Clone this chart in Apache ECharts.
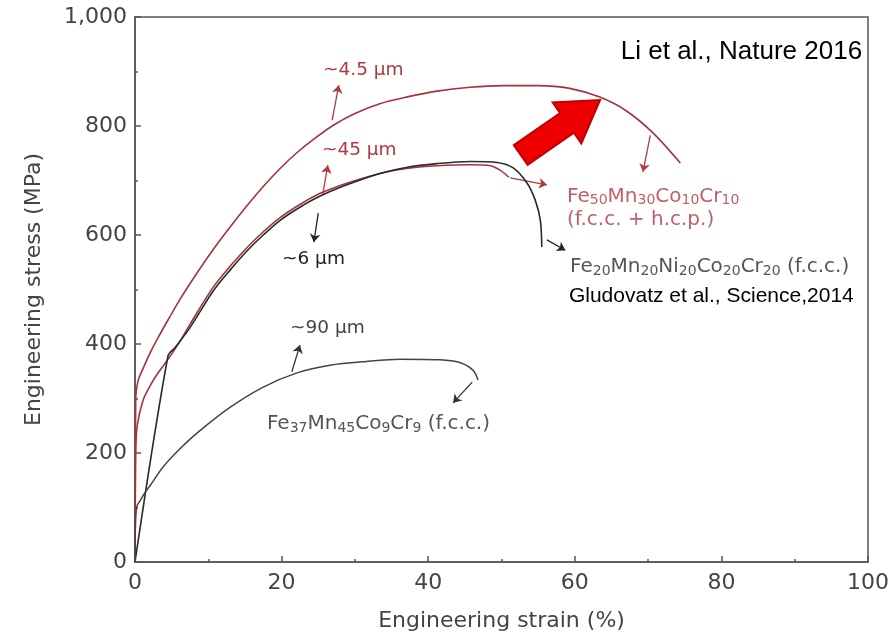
<!DOCTYPE html>
<html>
<head>
<meta charset="utf-8">
<script src="https://cdn.jsdelivr.net/npm/echarts@6/dist/echarts.min.js"></script>
<style>
  html, body { margin: 0; padding: 0; background: #fff; }
  #chart { width: 895px; height: 641px; }
</style>
</head>
<body>
<div id="chart"></div>
<script>
// stress-strain curves, [strain %, stress MPa]
const fe50Fine = [[0,0],[0.1,300],[0.4,332],[1,352],[2,382],[3,408],[4.5,444],[6.1,481],[8.3,527],[10.6,572],[13,615],[15.3,654],[17.5,689],[19.8,722],[22,750],[24.3,775],[27,801],[30,823],[33.4,841],[37,853],[41.2,864],[45.7,871],[50.2,874],[55,874],[59.3,869],[63.4,853],[67,828],[70.7,787],[74.4,732]];
const fe50Coarse = [[0,0],[0.1,200],[0.3,250],[1.1,297],[2,322],[3,344],[4.5,372],[6,402],[7.5,436],[10.6,503],[13,543],[15.3,577],[17.5,606],[19.8,632],[22.5,656],[25.2,676],[28.9,695],[33.4,713],[37,722],[41.2,727],[45.7,729],[48.5,727],[49.8,719],[51,706]];
const cantor = [[0,0],[4.5,378],[5.5,394],[7.5,430],[10.6,496],[13,536],[15.3,571],[17.5,600],[19.8,627],[22.5,651],[25.2,671],[28.9,692],[33.4,713],[37,724],[41.2,731],[45.7,735],[49.4,733],[51.6,723],[53.5,695],[54.6,664],[55.3,627],[55.5,578]];
const fe37 = [[0,0],[0.2,100],[0.8,115],[1.4,128],[2,139],[3.8,174],[6,206],[8.5,237],[13,284],[17.5,321],[22.1,347],[26.6,361],[31.6,368],[36.2,372],[41.6,371],[44.3,366],[46.1,352],[46.8,334]];

const xTicks = [0, 20, 40, 60, 80, 100];
const yTicks = [0, 200, 400, 600, 800, 1000];

// small pointer arrows: [from, to, colour]
const pointers = [
  [[26.9,811],[27.8,875],'#b03a42'],
  [[25.6,673],[26.3,728],'#b03a42'],
  [[25.0,640],[24.4,587],'#222'],
  [[21.4,349],[22.5,398],'#333'],
  [[70.3,783],[69.3,716],'#b03a42'],
  [[51.2,705],[56.2,692],'#b03a42'],
  [[56.2,591],[58.7,572],'#222'],
  [[46.0,330],[43.4,292],'#333']
];

// big red block arrow outline
const bigArrow = [[51.69,764.8],[58.0,823.7],[56.99,843.3],[63.44,847.7],[60.89,768.1],[59.88,787.7],[53.57,728.8]];

// text notes: [x, y, text, colour, size, align]
const notes = [
  [25.65, 903, '~4.5 µm', '#b03a42', 18.5, 'left'],
  [25.5, 756, '~45 µm', '#b03a42', 18.5, 'left'],
  [20.05, 556, '~6 µm', '#222', 18.5, 'left'],
  [21.15, 429, '~90 µm', '#444', 18.5, 'left'],
  [58.94, 670, 'Fe{s|50}Mn{s|30}Co{s|10}Cr{s|10}', '#c0606a', 20, 'left'],
  [58.94, 628, '(f.c.c. + h.c.p.)', '#c0606a', 20, 'left'],
  [59.35, 541, 'Fe{s|20}Mn{s|20}Ni{s|20}Co{s|20}Cr{s|20} (f.c.c.)', '#555', 20, 'left'],
  [59.2, 488, 'Gludovatz et al., Science,2014', '#000', 21, 'left'],
  [18.0, 253, 'Fe{s|37}Mn{s|45}Co{s|9}Cr{s|9} (f.c.c.)', '#555', 20, 'left'],
  [99.2, 936, 'Li et al., Nature 2016', '#000', 26, 'right']
];

const chart = echarts.init(document.getElementById('chart'));

const axisFont = 'DejaVu Sans';

chart.setOption({
  animation: false,
  grid: {
    left: 135, right: 27, top: 17, bottom: 79,
    show: true, borderColor: '#555', borderWidth: 1.5
  },
  xAxis: {
    type: 'value', min: 0, max: 100, interval: 20,
    name: 'Engineering strain (%)', nameLocation: 'middle', nameGap: 48,
    nameTextStyle: { fontSize: 22, color: '#444', fontFamily: axisFont },
    axisLine: { lineStyle: { color: '#555', width: 1.5 } },
    axisTick: { inside: true, length: 6, lineStyle: { color: '#555', width: 1.5 } },
    minorTick: { show: true, splitNumber: 2, length: 3, lineStyle: { color: '#555', width: 1.5 } },
    splitLine: { show: false },
    axisLabel: { fontSize: 22, color: '#444', fontFamily: axisFont, margin: 10 }
  },
  yAxis: {
    type: 'value', min: 0, max: 1000, interval: 200,
    name: 'Engineering stress (MPa)', nameLocation: 'middle', nameGap: 90,
    nameTextStyle: { fontSize: 22, color: '#444', fontFamily: axisFont },
    axisLine: { show: true, lineStyle: { color: '#555', width: 1.5 } },
    axisTick: { show: true, inside: true, length: 6, lineStyle: { color: '#555', width: 1.5 } },
    minorTick: { show: true, splitNumber: 2, length: 3, lineStyle: { color: '#555', width: 1.5 } },
    splitLine: { show: false },
    axisLabel: {
      fontSize: 22, color: '#444', fontFamily: axisFont, margin: 8,
      formatter: v => v.toLocaleString('en-US')
    }
  },
  series: [
    { type: 'line', data: fe50Fine, smooth: 0.3, showSymbol: false, lineStyle: { color: '#a8323b', width: 1.6 } },
    { type: 'line', data: fe50Coarse, smooth: 0.3, showSymbol: false, lineStyle: { color: '#a8323b', width: 1.6 } },
    { type: 'line', data: cantor, smooth: 0.3, showSymbol: false, lineStyle: { color: '#2a2a2a', width: 1.6 } },
    { type: 'line', data: fe37, smooth: 0.3, showSymbol: false, lineStyle: { color: '#444', width: 1.5 } },
    {
      type: 'lines', coordinateSystem: 'cartesian2d',
      symbol: ['none', 'arrow'], symbolSize: 8,
      data: pointers.map(p => ({ coords: [p[0], p[1]], lineStyle: { color: p[2], width: 1.3, opacity: 1 } })),
      z: 3
    },
    {
      type: 'custom', data: [0], z: 5,
      renderItem: (params, api) => ({
        type: 'polygon',
        shape: { points: bigArrow.map(p => api.coord(p)) },
        style: { fill: '#ee0000', stroke: '#c00000', lineWidth: 2 }
      })
    },
    {
      type: 'custom', data: notes.map((n, i) => [n[0], n[1], i]), z: 6,
      renderItem: (params, api) => {
        const n = notes[params.dataIndex];
        const pt = api.coord([n[0], n[1]]);
        const isRef = n[3] === '#000';
        const fam = isRef ? 'Liberation Sans' : axisFont;
        // wrap plain runs so every token shares one line box
        const txt = n[2].replace(/(^|\})([^{}]+)(?=\{|$)/g, (m, a, b) => a + '{m|' + b + '}');
        return {
          type: 'text', x: pt[0], y: pt[1],
          style: {
            text: txt, fill: n[3], align: n[5], verticalAlign: 'middle',
            fontSize: n[4], fontFamily: fam,
            rich: {
              m: { fontSize: n[4], fill: n[3], fontFamily: fam, lineHeight: 22, verticalAlign: 'middle' },
              s: { fontSize: 14, fill: n[3], fontFamily: axisFont, lineHeight: 10, verticalAlign: 'bottom' }
            }
          }
        };
      }
    }
  ]
});

window.addEventListener('resize', () => chart.resize());
</script>
</body>
</html>
